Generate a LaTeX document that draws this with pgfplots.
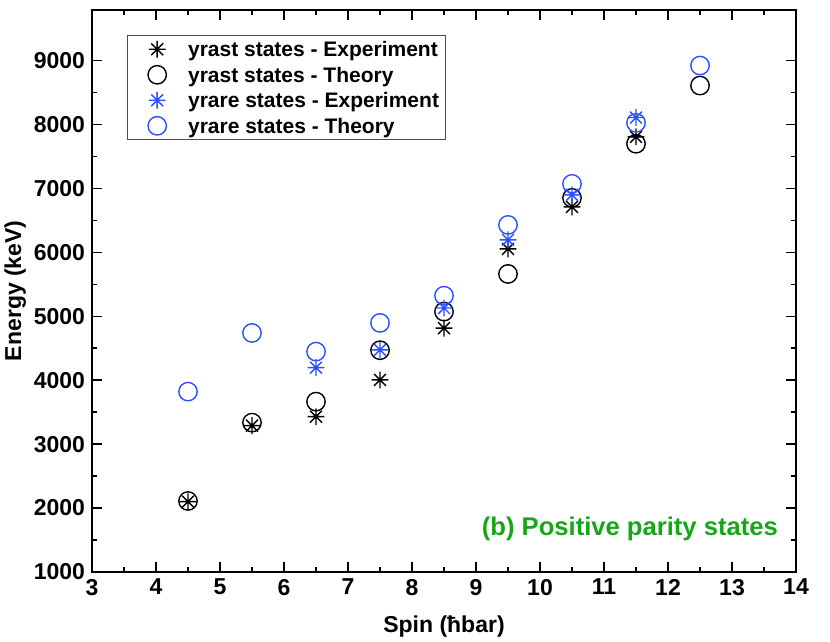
\documentclass[border=0pt]{standalone}
\usepackage{pgfplots}
\pgfplotsset{compat=1.18}
\usepackage{fontspec}
\setmainfont{Liberation Sans}
\definecolor{ablue}{RGB}{43,80,255}
\definecolor{agreen}{RGB}{25,165,25}
\pgfdeclareplotmark{star8}{%
  \pgfpathmoveto{\pgfqpoint{0pt}{\pgfplotmarksize}}\pgfpathlineto{\pgfqpoint{0pt}{-\pgfplotmarksize}}%
  \pgfpathmoveto{\pgfqpoint{\pgfplotmarksize}{0pt}}\pgfpathlineto{\pgfqpoint{-\pgfplotmarksize}{0pt}}%
  \pgfpathmoveto{\pgfqpoint{0.7071\pgfplotmarksize}{0.7071\pgfplotmarksize}}\pgfpathlineto{\pgfqpoint{-0.7071\pgfplotmarksize}{-0.7071\pgfplotmarksize}}%
  \pgfpathmoveto{\pgfqpoint{0.7071\pgfplotmarksize}{-0.7071\pgfplotmarksize}}\pgfpathlineto{\pgfqpoint{-0.7071\pgfplotmarksize}{0.7071\pgfplotmarksize}}%
  \pgfusepathqstroke}
\begin{document}
\begin{tikzpicture}
\useasboundingbox (-46pt,-35pt) rectangle (369pt,286pt);
\begin{axis}[
  at={(0,0)}, anchor=south west,
  scale only axis, width=352pt, height=281.25pt,
  xmin=3, xmax=14, ymin=1000, ymax=9800,
  xtick={3,4,...,14}, ytick={1000,2000,...,9000},
  minor x tick num=1, minor y tick num=1,
  tick align=inside, major tick length=5pt, minor tick length=2.5pt,
  axis line style={line width=1pt}, every tick/.style={line width=0.8pt, black},
  /pgf/number format/assume math mode=true,
  /pgf/number format/1000 sep={},
  ticklabel style={font=\fontsize{11.5}{13}\selectfont\bfseries},
  xlabel={Spin (ħbar)}, ylabel={Energy (keV)},
  every axis x label/.style={at={(axis description cs:0.5,-0.0978)}, anchor=center, font=\fontsize{11.5}{13}\selectfont\bfseries},
  every axis y label/.style={at={(axis description cs:-0.109,0.5)}, rotate=90, anchor=center, font=\fontsize{11.5}{13}\selectfont\bfseries},
  legend style={at={(axis description cs:0.0497,0.9544)}, anchor=north west,
    draw=black!70, line width=0.5pt, font=\fontsize{10.5}{12}\selectfont\bfseries,
    nodes={text depth=0pt},
    row sep=1.15pt, inner xsep=1pt, inner ysep=1pt},
  legend image code/.code={\path (0pt,-2.4pt) (26.6pt,2.4pt); \draw[overlay] plot coordinates {(13.5pt,0pt)};},
  legend cell align=left,
  clip=false,
]
\addplot[only marks, mark=star8, mark size=4.2pt, black, line width=0.7pt] coordinates {
(4.5,2100)(5.5,3290)(6.5,3430)(7.5,4005)(8.5,4815)(9.5,6055)(10.5,6712)(11.5,7808)};
\addlegendentry{yrast states - Experiment}
\addplot[only marks, mark=o, mark size=4.6pt, black, line width=0.7pt] coordinates {
(4.5,2111)(5.5,3337)(6.5,3665)(7.5,4470)(8.5,5074)(9.5,5663)(10.5,6853)(11.5,7700)(12.5,8610)};
\addlegendentry{yrast states - Theory}
\addplot[only marks, mark=star8, mark size=4.2pt, ablue, line width=0.7pt] coordinates {
(6.5,4197)(7.5,4474)(8.5,5130)(9.5,6196)(10.5,6900)(11.5,8110)};
\addlegendentry{yrare states - Experiment}
\addplot[only marks, mark=o, mark size=4.6pt, ablue, line width=0.7pt] coordinates {
(4.5,3822)(5.5,4740)(6.5,4448)(7.5,4897)(8.5,5323)(9.5,6430)(10.5,7072)(11.5,8027)(12.5,8923)};
\addlegendentry{yrare states - Theory}
\node[font=\fontsize{12.8}{14}\selectfont\bfseries, text=agreen, anchor=center] at (axis description cs:0.764,0.0764) {(b) Positive parity states};
\end{axis}
\end{tikzpicture}
\end{document}
